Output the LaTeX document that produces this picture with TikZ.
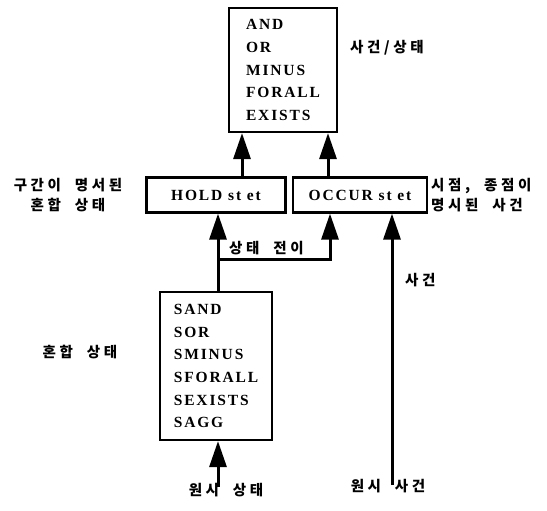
\documentclass[tikz,border=0pt]{standalone}
\usepackage{fontspec}
\setmainfont{Liberation Serif}
\newfontfamily\opfont[LetterSpace=12,UprightFont={* Bold},BoldFont={* Bold}]{Liberation Serif}
\newfontfamily\kr[LetterSpace=25,WordSpace=2]{Noto Sans CJK KR}
\usetikzlibrary{positioning,arrows.meta,calc}

\begin{document}
\begin{tikzpicture}[x=1pt,y=-1pt,
		opbox/.style={draw,line width=2.2pt,align=left,inner sep=0pt,font={\opfont\fontsize{15.5}{22.7}\selectfont}},
		lbl/.style={inner sep=0pt,font={\kr\bfseries\fontsize{14.5}{20}\selectfont}},
		flow/.style={line width=3pt,-{Triangle[length=26pt,width=17pt]}}]
		\useasboundingbox (0,0) rectangle (547,511);
		% operator boxes
		\node(ops) [opbox,minimum width=108,minimum height=124] at (283,70) {AND\\OR\\MINUS\\FORALL\\EXISTS};
		\node(hold) [opbox,minimum width=139,minimum height=35] at (216,195) {HOLD st et};
		\node(occur) [opbox,minimum width=134,minimum height=35] at (360,195) {OCCUR st et};
		\node(sops) [opbox,minimum width=112,minimum height=148] at (216,366) {SAND\\SOR\\SMINUS\\SFORALL\\SEXISTS\\SAGG};
		% labels
		\node(lops) [lbl,anchor=west] at (350,48) {사건/상태};
		\node(lhold) [lbl,align=center] at (68,195) {구간이 명서된\\혼합 상태};
		\node(loccur) [lbl,align=left,anchor=west] at (431,195) {시점, 종점이\\명시된 사건};
		\node(lmix) [lbl] at (80,352) {혼합 상태};
		\coordinate(rawst) at (218,487);
		\coordinate(rawev) at (392,485);
		\coordinate(split) at (218,259);
		\node(lrawst) [lbl,below=4 of rawst,xshift=8] {원시 상태};
		\node(lrawev) [lbl,below=6 of rawev,xshift=-4] {원시 사건};
		\node(ltrans) [lbl,anchor=south west] at (229,255) {상태 전이};
		\node(levent) [lbl,anchor=west] at (405,280) {사건};
		% connectors
		\draw[flow] ([xshift=26]hold.north) -- ([xshift=26]hold.north |- ops.south);
		\draw[flow] ([xshift=-32]occur.north) -- ([xshift=-32]occur.north |- ops.south);
		\draw[flow] (split |- sops.north) -- (split |- hold.south);
		\draw[flow] (split) -| ([xshift=-30]occur.south);
		\draw[flow] (rawst) -- (rawst |- sops.south);
		\draw[flow] (rawev) -- (rawev |- occur.south);
	\end{tikzpicture}
\end{document}
